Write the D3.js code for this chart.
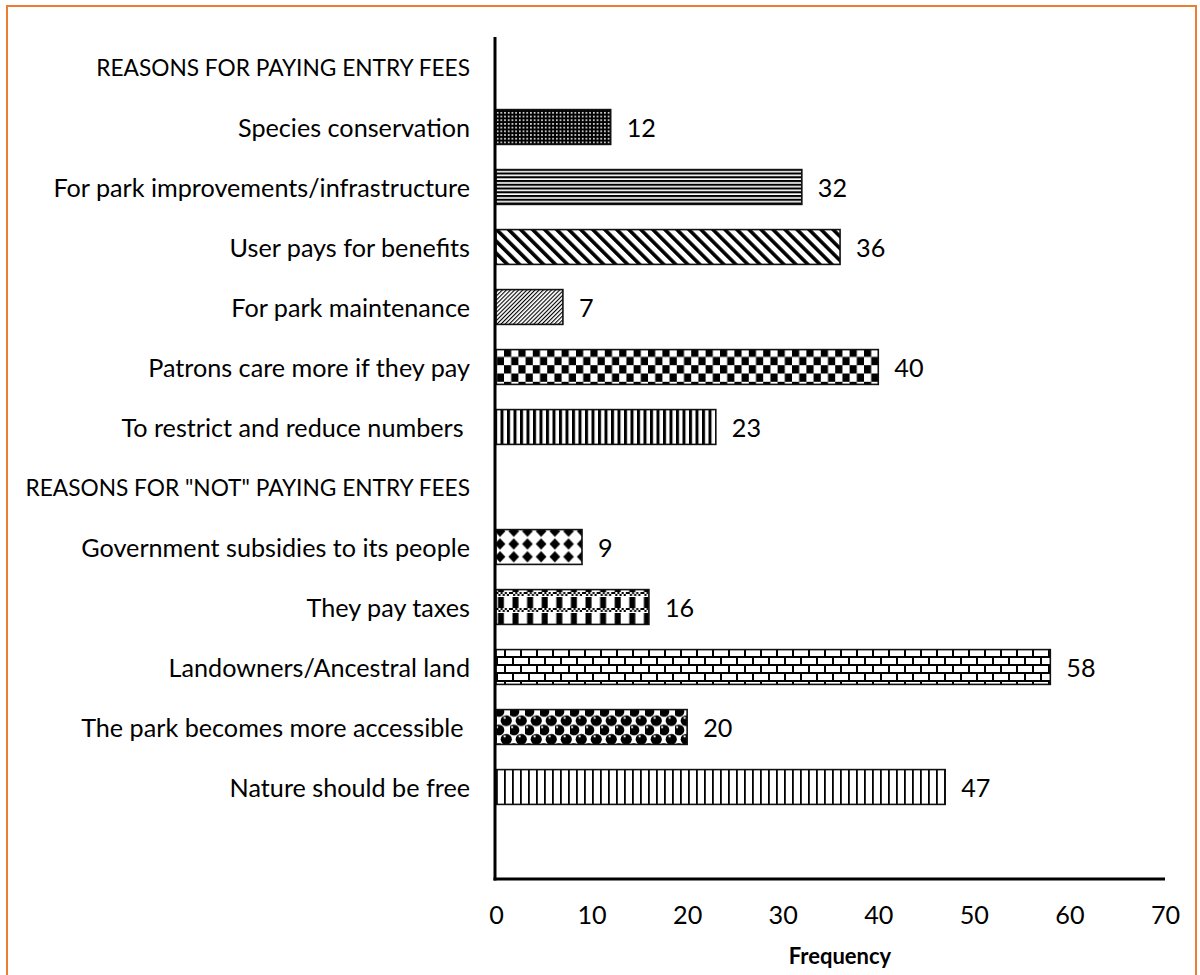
<!DOCTYPE html>
<html>
<head>
<meta charset="utf-8">
<script src="https://cdn.jsdelivr.net/npm/d3@7"></script>
<style>
  html, body { margin: 0; padding: 0; background: #fff; }
  svg { display: block; }
  text { font-family: Lato, "Open Sans", sans-serif; fill: #000; }
</style>
</head>
<body>
<svg id="chart" width="1200" height="975"></svg>
<script>
// Survey responses: reasons for and against paying park entry fees
const categories = [
  "REASONS FOR PAYING ENTRY FEES",
  "Species conservation",
  "For park improvements/infrastructure",
  "User pays for benefits",
  "For park maintenance",
  "Patrons care more if they pay",
  "To restrict and reduce numbers ",
  "REASONS FOR \"NOT\" PAYING ENTRY FEES",
  "Government subsidies to its people",
  "They pay taxes",
  "Landowners/Ancestral land",
  "The park becomes more accessible ",
  "Nature should be free",
  ""
];
const frequencies = [null, 12, 32, 36, 7, 40, 23, null, 9, 16, 58, 20, 47, null];
const fillPatterns = ["", "dots", "hlines", "wideDown", "lightUp", "checker", "darkV",
                      "", "diamond", "plaid", "brick", "sphere", "lightV", ""];
const xTicks = [0, 10, 20, 30, 40, 50, 60, 70];
const xDomain = [0, 70];
const xTitle = "Frequency";

const svg = d3.select("#chart");
const FONT = 25.2;       // category, tick and value labels
const HEAD_FONT = 22.7;  // all-caps group headings
const TITLE_FONT = 22;   // bold axis title

// outer frame
svg.append("rect")
  .attr("x", 7).attr("y", 6).attr("width", 1189).attr("height", 990)
  .attr("fill", "#fff").attr("stroke", "#ED7D31").attr("stroke-width", 2);

// ---- hatch fills ----
const defs = svg.append("defs");
function pat(id, w, h, transform) {
  const p = defs.append("pattern").attr("id", id)
    .attr("patternUnits", "userSpaceOnUse").attr("width", w).attr("height", h);
  if (transform) p.attr("patternTransform", transform);
  return p;
}
function box(p, x, y, w, h, c) {
  p.append("rect").attr("x", x).attr("y", y).attr("width", w).attr("height", h).attr("fill", c);
}

// fine white dots on black
{ const p = pat("dots", 3.7, 3.7); box(p, 0, 0, 3.7, 3.7, "#000"); box(p, 1, 1, 1.6, 1.6, "#fff"); }
// dark horizontal lines
{ const p = pat("hlines", 8, 3.75); box(p, 0, 0, 8, 3.75, "#fff"); box(p, 0, 0, 8, 2.1, "#000"); }
// wide downward diagonal
{ const p = pat("wideDown", 8.5, 8.5, "rotate(-45)"); box(p, 0, 0, 8.5, 8.5, "#fff"); box(p, 0, 0, 3.6, 8.5, "#000"); }
// light upward diagonal
{ const p = pat("lightUp", 2.9, 2.9, "rotate(45)"); box(p, 0, 0, 2.9, 2.9, "#fff"); box(p, 0, 0, 1.1, 2.9, "#000"); }
// large checker board
{ const p = pat("checker", 14.4, 16.6); box(p, 0, 0, 14.4, 16.6, "#fff");
  box(p, 0, 0, 7.2, 8.3, "#000"); box(p, 7.2, 8.3, 7.2, 8.3, "#000"); }
// dark vertical lines
{ const p = pat("darkV", 6.5, 8); box(p, 0, 0, 6.5, 8, "#fff"); box(p, 0, 0, 3, 8, "#000"); }
// solid diamonds
{ const p = pat("diamond", 13.7, 12.8); box(p, 0, 0, 13.7, 12.8, "#fff");
  p.append("path").attr("d", "M6.85,0.8 L12.2,6.4 L6.85,12 L1.5,6.4 Z").attr("fill", "#000"); }
// plaid: dither band over a row of solid blocks
{ const p = pat("plaid", 14.6, 16); box(p, 0, 0, 14.6, 16, "#fff");
  for (let r = 0; r < 2; r++) for (let c = 0; c < 7; c++)
    if ((r + c) % 2 === 0) box(p, c * 2.1, r * 2, 2.1, 2, "#000");
  box(p, 1.5, 5, 6, 11, "#000"); }
// horizontal brick
{ const p = pat("brick", 16, 16); box(p, 0, 0, 16, 16, "#fff");
  box(p, 0, 0, 16, 2, "#000"); box(p, 0, 8, 16, 2, "#000");
  box(p, 0, 0, 2, 8, "#000"); box(p, 8, 8, 2, 8, "#000"); }
// spheres
{ const p = pat("sphere", 15, 18.6); box(p, 0, 0, 15, 18.6, "#fff");
  [[3.75, 4.65], [11.25, 13.95], [-3.75, 13.95], [18.75, 13.95], [3.75, 23.25], [3.75, -4.65],
   [11.25, -4.65], [-3.75, -4.65], [18.75, -4.65]].forEach(([cx, cy]) => {
    p.append("ellipse").attr("cx", cx).attr("cy", cy).attr("rx", 5.6).attr("ry", 5.4).attr("fill", "#000");
    p.append("rect").attr("x", cx - 2.6).attr("y", cy - 3.8).attr("width", 2).attr("height", 1.8).attr("fill", "#fff");
  }); }
// light vertical lines
{ const p = pat("lightV", 8, 8); box(p, 0, 0, 8, 8, "#fff"); box(p, 0, 0, 1.8, 8, "#000"); }

// ---- scales ----
const x = d3.scaleLinear().domain(xDomain).range([496, 1165]);
const y = d3.scaleBand().domain(d3.range(categories.length)).range([37, 877]).paddingInner(0).paddingOuter(0);
const barH = y.bandwidth() * 0.58;

// ---- bars ----
const rows = categories.map((c, i) => ({ i, c, v: frequencies[i], f: fillPatterns[i] }));
const bars = rows.filter(d => d.v != null);

svg.append("g").selectAll("rect").data(bars).join("rect")
  .attr("x", x(0))
  .attr("y", d => y(d.i) + (y.bandwidth() - barH) / 2)
  .attr("width", d => x(d.v) - x(0))
  .attr("height", barH)
  .attr("fill", d => `url(#${d.f})`)
  .attr("stroke", "#111").attr("stroke-width", 1.6);

// value labels
svg.append("g").selectAll("text").data(bars).join("text")
  .attr("x", d => x(d.v) + 16)
  .attr("y", d => y(d.i) + y.bandwidth() / 2)
  .attr("dominant-baseline", "central")
  .attr("font-size", FONT)
  .text(d => d.v);

// category labels (group headings are the rows without a value)
svg.append("g").selectAll("text").data(rows.filter(d => d.c)).join("text")
  .attr("x", 470)
  .attr("y", d => y(d.i) + y.bandwidth() / 2)
  .attr("dominant-baseline", "central")
  .attr("text-anchor", "end")
  .attr("font-size", d => d.v == null ? HEAD_FONT : FONT)
  .style("white-space", "pre")
  .attr("xml:space", "preserve")
  .text(d => d.c);

// ---- axes ----
const xAxis = d3.axisBottom(x).tickValues(xTicks).tickSize(0).tickPadding(0);
const gx = svg.append("g").attr("transform", "translate(0,879)").call(xAxis);
gx.select(".domain").remove();
gx.selectAll("text")
  .attr("y", 35).attr("dy", null)
  .attr("dominant-baseline", "central")
  .attr("font-size", FONT)
  .style("font-family", "Lato, 'Open Sans', sans-serif")
  .attr("fill", "#000");

svg.append("line")
  .attr("x1", x(0) - 1).attr("x2", x(0) - 1)
  .attr("y1", y.range()[0]).attr("y2", 880.5)
  .attr("stroke", "#000").attr("stroke-width", 3);
svg.append("line")
  .attr("x1", x(0) - 2.5).attr("x2", x(xDomain[1]))
  .attr("y1", 879).attr("y2", 879)
  .attr("stroke", "#000").attr("stroke-width", 3);

svg.append("text")
  .attr("x", 840).attr("y", 955)
  .attr("text-anchor", "middle").attr("dominant-baseline", "central")
  .attr("font-size", TITLE_FONT).attr("font-weight", "bold")
  .text(xTitle);
</script>
</body>
</html>
